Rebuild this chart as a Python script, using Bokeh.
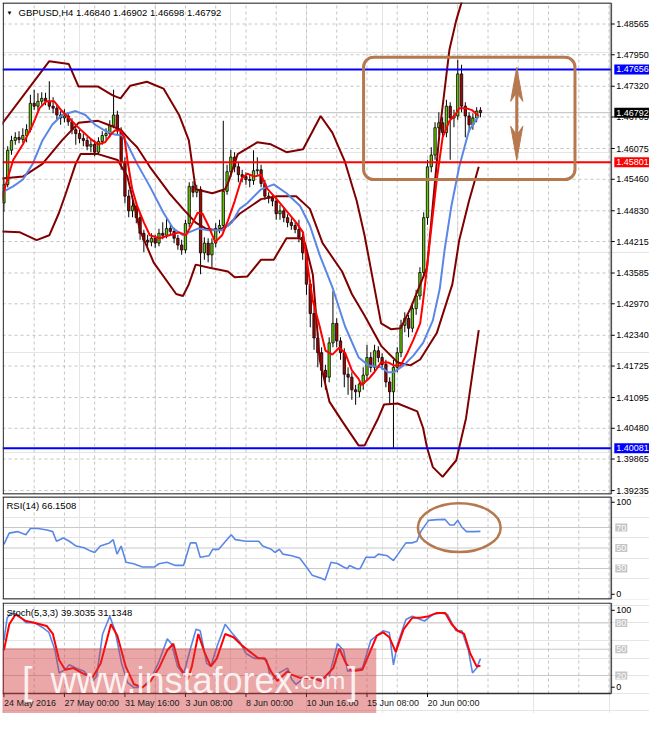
from bokeh.plotting import figure
from bokeh.layouts import column
from bokeh.models import Range1d, Label, BoxAnnotation, ColumnDataSource
from bokeh.core.properties import value
from bokeh.embed import file_html
from bokeh.resources import INLINE

# ---------------- data ----------------
opens = [1.44985, 1.45357, 1.46041, 1.46237, 1.46296, 1.46257, 1.46335, 1.46452, 1.46980, 1.46922,
         1.47019, 1.47078, 1.47019, 1.46922, 1.46882, 1.46746, 1.46687, 1.46726, 1.46609, 1.46452,
         1.46374, 1.46276, 1.46237, 1.46120, 1.46159, 1.46002, 1.46217, 1.46335, 1.46374, 1.46530,
         1.46746, 1.46433, 1.45807, 1.45122, 1.44829, 1.44926, 1.44692, 1.44379, 1.44242, 1.44203,
         1.44281, 1.44183, 1.44379, 1.44340, 1.44477, 1.44418, 1.44281, 1.44144, 1.44046, 1.44574,
         1.45318, 1.45200, 1.45259, 1.43988, 1.44183, 1.43948, 1.44183, 1.44477, 1.44535, 1.45220,
         1.45611, 1.45904, 1.45709, 1.45552, 1.45513, 1.45455, 1.45435, 1.45631, 1.45650, 1.45376,
         1.45122, 1.45083, 1.45024, 1.44770, 1.44829, 1.44692, 1.44594, 1.44535, 1.44457, 1.44301,
         1.43988, 1.43362, 1.42775, 1.42286, 1.41992, 1.41640, 1.41503, 1.42188, 1.42579, 1.42227,
         1.41992, 1.41562, 1.41503, 1.41249, 1.41210, 1.41367, 1.41543, 1.41895, 1.41699, 1.42032,
         1.41895, 1.41758, 1.41406, 1.41210, 1.41699, 1.41992, 1.42540, 1.42677, 1.42481, 1.42873,
         1.43127, 1.43596, 1.44692, 1.45709, 1.45944, 1.46491, 1.46589, 1.46393, 1.46922, 1.46687,
         1.46726, 1.47567, 1.46922, 1.46726, 1.46550, 1.46687, 1.46840]
highs = [1.45450, 1.46120, 1.46330, 1.46400, 1.46420, 1.46480, 1.46560, 1.47150, 1.47250, 1.47180,
         1.47200, 1.47190, 1.47420, 1.47100, 1.46960, 1.46820, 1.46860, 1.46800, 1.46680, 1.46540,
         1.46450, 1.46380, 1.46310, 1.46260, 1.46240, 1.46300, 1.46420, 1.46480, 1.46640, 1.47250,
         1.46830, 1.46500, 1.45900, 1.45250, 1.45050, 1.45000, 1.44780, 1.44450, 1.44350, 1.44380,
         1.44350, 1.44470, 1.44600, 1.44700, 1.44560, 1.44490, 1.44350, 1.44250, 1.44650, 1.45400,
         1.45420, 1.45350, 1.45320, 1.44300, 1.44280, 1.44280, 1.44580, 1.44650, 1.46630, 1.45750,
         1.46050, 1.46000, 1.45800, 1.45650, 1.45600, 1.45560, 1.46040, 1.45900, 1.45750, 1.45450,
         1.45200, 1.45150, 1.45100, 1.44950, 1.44900, 1.44760, 1.44680, 1.44600, 1.44650, 1.44380,
         1.44050, 1.43450, 1.42900, 1.42400, 1.42100, 1.41750, 1.42300, 1.43220, 1.42680, 1.42300,
         1.42080, 1.41700, 1.41600, 1.41350, 1.41450, 1.41700, 1.42150, 1.42000, 1.42150, 1.42120,
         1.41980, 1.41850, 1.41500, 1.41850, 1.42100, 1.42650, 1.42800, 1.42750, 1.43000, 1.43250,
         1.43700, 1.44800, 1.45850, 1.46100, 1.46600, 1.46800, 1.46700, 1.47050, 1.47000, 1.46850,
         1.47850, 1.47750, 1.47000, 1.46800, 1.46780, 1.46900, 1.46902]
lows = [1.44810, 1.45300, 1.45950, 1.46150, 1.46180, 1.46190, 1.46200, 1.46400, 1.46850, 1.46830,
        1.46950, 1.46940, 1.46850, 1.46780, 1.46650, 1.46550, 1.46600, 1.46530, 1.46360, 1.46150,
        1.46180, 1.46120, 1.46040, 1.46000, 1.45920, 1.45950, 1.46150, 1.46250, 1.46300, 1.46480,
        1.46350, 1.45650, 1.44980, 1.44700, 1.44700, 1.44580, 1.44250, 1.44000, 1.44100, 1.44120,
        1.44090, 1.44120, 1.44260, 1.44280, 1.44330, 1.44180, 1.44050, 1.43950, 1.43980, 1.44500,
        1.45100, 1.45100, 1.43560, 1.43850, 1.43800, 1.43700, 1.44100, 1.44380, 1.44450, 1.45150,
        1.45500, 1.45600, 1.45400, 1.45400, 1.45350, 1.45300, 1.45350, 1.45550, 1.45300, 1.45050,
        1.44980, 1.44920, 1.44650, 1.44650, 1.44600, 1.44500, 1.44450, 1.44380, 1.44200, 1.43850,
        1.43150, 1.42500, 1.42050, 1.41700, 1.41300, 1.41250, 1.41400, 1.42100, 1.42100, 1.41850,
        1.41300, 1.41150, 1.41050, 1.40950, 1.41100, 1.41250, 1.41450, 1.41600, 1.41600, 1.41800,
        1.41650, 1.41300, 1.40980, 1.40081, 1.41600, 1.41900, 1.42400, 1.42300, 1.42400, 1.42750,
        1.43050, 1.43500, 1.44550, 1.45600, 1.45850, 1.46350, 1.46300, 1.46300, 1.45850, 1.46500,
        1.46650, 1.46800, 1.46300, 1.46400, 1.46450, 1.46600, 1.46698]
closes = [1.45357, 1.46041, 1.46237, 1.46296, 1.46257, 1.46335, 1.46452, 1.46980, 1.46922, 1.47019,
          1.47078, 1.47019, 1.46922, 1.46882, 1.46746, 1.46687, 1.46726, 1.46609, 1.46452, 1.46374,
          1.46276, 1.46237, 1.46120, 1.46159, 1.46002, 1.46217, 1.46335, 1.46374, 1.46530, 1.46746,
          1.46433, 1.45807, 1.45122, 1.44829, 1.44926, 1.44692, 1.44379, 1.44242, 1.44203, 1.44281,
          1.44183, 1.44379, 1.44340, 1.44477, 1.44418, 1.44281, 1.44144, 1.44046, 1.44574, 1.45318,
          1.45200, 1.45259, 1.43988, 1.44183, 1.43948, 1.44183, 1.44477, 1.44535, 1.45220, 1.45611,
          1.45904, 1.45709, 1.45552, 1.45513, 1.45455, 1.45435, 1.45631, 1.45650, 1.45376, 1.45122,
          1.45083, 1.45024, 1.44770, 1.44829, 1.44692, 1.44594, 1.44535, 1.44457, 1.44301, 1.43988,
          1.43362, 1.42775, 1.42286, 1.41992, 1.41640, 1.41503, 1.42188, 1.42579, 1.42227, 1.41992,
          1.41562, 1.41503, 1.41249, 1.41210, 1.41367, 1.41543, 1.41895, 1.41699, 1.42032, 1.41895,
          1.41758, 1.41406, 1.41210, 1.41699, 1.41992, 1.42540, 1.42677, 1.42481, 1.42873, 1.43127,
          1.43596, 1.44692, 1.45709, 1.45944, 1.46491, 1.46589, 1.46393, 1.46922, 1.46687, 1.46726,
          1.47567, 1.46922, 1.46726, 1.46550, 1.46687, 1.46824, 1.46792]

bb_up_bar = [-0.9, 12.0, 17.16, 19.74, 24.9, 28.77, 30.84, 33.42, 37.81, 42.19, 46.32, 48.9, 50.71,
             55.1, 58.45, 59.23, 61.81, 66.97, 70.58, 74.71, 79.1, 83.74, 86.84, 90.19, 93.29,
             95.35, 99.74, 102.32, 104.9, 107.48, 111.87, 115.23, 117.81, 119.61, 121.16, 122.45]
bb_up = [1.46530, 1.47821, 1.47763, 1.47313, 1.47313, 1.47137, 1.47078, 1.47332, 1.47411, 1.47274,
         1.46746, 1.46237, 1.45259, 1.45181, 1.45259, 1.45376, 1.45963, 1.46198, 1.46159, 1.46002,
         1.46061, 1.46726, 1.46393, 1.45807, 1.45024, 1.44340, 1.42579, 1.42462, 1.42481, 1.42873,
         1.43694, 1.46433, 1.48056, 1.48643, 1.49034, 1.49523]
bb_mid_bar = [-0.9, 5.03, 10.19, 15.35, 19.74, 24.9, 28.26, 30.84, 33.42, 35.23, 38.58, 43.74, 47.35,
              50.71, 53.29, 56.65, 59.23, 62.32, 68.0, 72.13, 77.29, 80.9, 84.26, 89.42, 92.0,
              95.35, 99.74, 104.13, 107.48, 110.06, 114.45, 118.58, 120.39, 122.97, 125.55]
bb_mid = [1.45474, 1.45513, 1.45768, 1.46237, 1.46589, 1.46628, 1.46530, 1.46452, 1.46237, 1.46100,
          1.45709, 1.45181, 1.44868, 1.44594, 1.44477, 1.44438, 1.44535, 1.44770, 1.45063, 1.45122,
          1.45122, 1.44868, 1.44183, 1.43616, 1.43166, 1.42736, 1.42129, 1.41797, 1.41738, 1.41856,
          1.42384, 1.43362, 1.44242, 1.45024, 1.45709]
bb_low_bar = [-0.9, 4.26, 8.65, 12.0, 14.58, 16.39, 18.97, 20.26, 24.9, 30.06, 32.65, 36.0, 39.61,
              45.55, 47.35, 48.9, 50.71, 54.06, 59.23, 61.03, 64.39, 68.0, 71.35, 74.71, 78.32,
              79.61, 81.68, 83.48, 86.06, 89.42, 93.81, 95.35, 98.97, 100.52, 104.13, 109.29,
              110.84, 111.87, 113.42, 116.0, 119.61, 122.19, 125.55]
bb_low = [1.44418, 1.44398, 1.44242, 1.44340, 1.44790, 1.45181, 1.45768, 1.45963, 1.45963, 1.45846,
          1.45513, 1.44438, 1.43792, 1.43166, 1.43127, 1.43362, 1.43753, 1.43694, 1.43616, 1.43499,
          1.43518, 1.43851, 1.43851, 1.44281, 1.44281, 1.44183, 1.43557, 1.41856, 1.41014, 1.40623,
          1.40134, 1.40134, 1.40682, 1.40956, 1.40975, 1.40819, 1.40486, 1.40095, 1.39704, 1.39508,
          1.39841, 1.40682, 1.42442]
ma_blue_bar = [-0.9, 2.45, 5.03, 7.61, 10.19, 12.77, 15.35, 18.97, 21.55, 24.13, 26.71, 29.29, 31.35,
               32.65, 35.23, 38.58, 42.19, 44.77, 47.35, 48.9, 51.48, 54.06, 57.68, 60.26, 62.32,
               64.39, 68.0, 71.35, 74.71, 78.32, 80.9, 83.48, 86.84, 90.19, 93.81, 96.39, 99.74,
               101.55, 103.1, 105.68, 108.26, 110.84, 113.42, 115.23, 116.52, 118.32, 120.39,
               122.97, 125.55]
ma_blue = [1.45181, 1.45318, 1.45455, 1.45768, 1.46237, 1.46550, 1.46746, 1.46824, 1.46746, 1.46550,
           1.46433, 1.46354, 1.46335, 1.46159, 1.45768, 1.45318, 1.44790, 1.44477, 1.44340, 1.44398,
           1.44477, 1.44438, 1.44438, 1.44594, 1.44868, 1.44985, 1.45259, 1.45357, 1.45181, 1.44926,
           1.44535, 1.43948, 1.43303, 1.42521, 1.41895, 1.41738, 1.41699, 1.41601, 1.41601, 1.41738,
           1.41934, 1.42188, 1.42638, 1.43264, 1.44046, 1.44926, 1.45709, 1.46433, 1.46726]
ma_red_bar = [-0.9, 0.9, 2.45, 5.03, 7.61, 9.42, 11.23, 13.29, 15.35, 17.94, 20.52, 23.1, 24.9, 26.71,
              28.26, 29.29, 30.84, 31.87, 32.65, 33.94, 35.23, 37.03, 38.58, 41.16, 43.74, 46.32,
              48.13, 49.94, 51.23, 52.52, 54.06, 55.87, 57.68, 59.23, 61.03, 62.84, 64.39, 66.19,
              68.0, 69.55, 72.13, 74.71, 77.29, 79.1, 79.87, 80.9, 81.68, 83.48, 85.03, 86.84,
              88.65, 90.19, 92.0, 93.81, 94.58, 96.39, 97.94, 99.74, 101.55, 103.1, 104.9, 106.71,
              108.26, 110.06, 110.84, 111.87, 112.65, 114.45, 116.0, 117.81, 119.1, 120.39,
              122.19, 123.74, 125.55]
ma_red = [1.44985, 1.45455, 1.45846, 1.46159, 1.46550, 1.46882, 1.47019, 1.47019, 1.46824, 1.46628,
          1.46433, 1.46257, 1.46159, 1.46198, 1.46354, 1.46433, 1.46433, 1.46296, 1.45846, 1.45259,
          1.44926, 1.44594, 1.44340, 1.44281, 1.44340, 1.44398, 1.44340, 1.44594, 1.44790, 1.44770,
          1.44535, 1.44203, 1.44340, 1.44633, 1.45024, 1.45474, 1.45572, 1.45513, 1.45552, 1.45279,
          1.45063, 1.44829, 1.44594, 1.44398, 1.43948, 1.43420, 1.43029, 1.42521, 1.42032, 1.41953,
          1.42090, 1.41992, 1.41640, 1.41464, 1.41347, 1.41464, 1.41601, 1.41797, 1.41797, 1.41738,
          1.41738, 1.41992, 1.42247, 1.42579, 1.43029, 1.43694, 1.44242, 1.45455, 1.46296, 1.46628,
          1.46726, 1.46882, 1.46882, 1.46843, 1.46726]

rsi_bar = [0, 1.4, 3.6, 5.8, 7, 9, 11.4, 12.9, 13.9, 15.7, 17.3, 19.1, 21.2, 22.8, 24, 25.5, 27.9,
           28.9, 29.9, 31, 32.3, 34.3, 36.6, 39.7, 41, 43.1, 45.4, 47.5, 49.3, 50.8, 51.9, 54.2,
           55.2, 56.8, 58.6, 60.1, 61.2, 64, 66.3, 67.4, 68.4, 70.7, 71.7, 72.8, 73.8, 76.1, 78.2,
           80, 81.5, 83.9, 84.9, 86.5, 88.3, 89.8, 90.8, 91.4, 93.2, 94.2, 95.7, 98, 99, 101.4,
           103, 104.8, 106.3, 107.9, 109.2, 110.2, 112.3, 114.6, 116.6, 117.9, 119, 120, 121,
           122.3, 124.4, 126]
rsi_val = [53.5, 64.5, 66, 63, 69, 69, 67.6, 66, 56.6, 59.8, 56.6, 51.9, 50.3, 47.2, 45.6, 51.9, 55,
           58.2, 44, 51.9, 36, 34.6, 31.4, 31.4, 34.6, 36, 33, 33, 55, 55, 40.9, 42.4, 48.7, 48.7,
           56.6, 62.9, 58.2, 56.6, 56.6, 56.6, 51.9, 48.7, 45.6, 48.7, 44, 42.4, 40.2, 31.4, 23.5,
           20.4, 18.8, 36, 34.6, 31.4, 29.8, 33, 29.8, 29.8, 40.9, 40.9, 44, 42.4, 37.7, 47.2, 55,
           55, 56.6, 66, 77, 77.7, 78, 72.4, 72.4, 77, 70.8, 66, 66, 66.2]

stoch_k_bar = [0, 0.87, 1.97, 3.62, 5.82, 8.01, 10.2, 11.9, 13.5, 14.6, 16.2, 17.3, 19.0, 21.2, 23.4,
               24.5, 26.1, 28.0, 29.4, 31.1, 32.7, 34.4, 36.6, 38.8, 41.0, 43.2, 44.3, 45.9, 47.5,
               49.2, 50.8, 51.9, 53.6, 54.7, 56.3, 58.5, 60.2, 62.4, 64.0, 66.2, 67.9, 69.5, 70.6,
               72.8, 75.0, 76.1, 77.2, 79.4, 81.6, 83.8, 86.0, 88.2, 89.8, 90.9, 92.6, 94.8, 97.0,
               98.6, 100.3, 101.9, 103.0, 104.1, 106.3, 108.0, 110.1, 111.2, 113.4, 115.6, 117.3,
               119.5, 121.1, 122.8, 123.9, 125.0, 126.0]
stoch_k = [60.0, 85.9, 91.4, 89.6, 80.3, 80.3, 74.8, 69.2, 48.9, 23.0, 26.7, 32.2, 28.5, 24.8, 13.7,
           19.3, 67.4, 87.7, 71.1, 34.1, 11.9, 6.3, 6.3, 15.6, 35.9, 61.8, 56.3, 30.4, 21.1, 48.9,
           72.9, 71.1, 34.1, 30.4, 52.6, 78.5, 69.2, 58.1, 45.2, 39.6, 39.6, 37.8, 13.7, 23.0, 28.5,
           15.6, 10.0, 17.4, 17.4, 15.6, 19.3, 56.3, 48.9, 24.8, 26.7, 28.5, 60.0, 65.5, 71.1, 69.2,
           32.2, 56.3, 84.0, 87.7, 84.0, 82.2, 89.6, 91.4, 89.6, 71.1, 71.1, 48.9, 23.0, 28.5, 39.3]
stoch_d_bar = [0, 1.42, 3.07, 5.82, 8.01, 11.3, 12.95, 14.6, 16.2, 18.4, 20.6, 23.4, 25.6, 28.3, 30.0,
               32.2, 34.4, 36.6, 38.8, 41.0, 43.2, 44.8, 46.4, 48.6, 49.7, 51.4, 53.0, 54.7, 56.3,
               58.5, 60.7, 62.9, 65.1, 67.3, 69.0, 70.6, 72.3, 75.0, 76.1, 78.3, 81.6, 83.8, 87.1,
               88.7, 90.4, 92.0, 94.8, 97.0, 98.6, 100.3, 101.9, 103.6, 105.7, 108.0, 110.1, 112.3,
               114.5, 116.7, 118.4, 120.0, 121.7, 123.3, 125.0, 126.0]
stoch_d = [48.9, 78.5, 89.6, 82.2, 80.3, 76.6, 67.4, 37.8, 26.7, 28.5, 23.0, 17.4, 34.1, 78.5, 65.5,
           30.4, 10.0, 6.3, 13.7, 28.5, 48.9, 56.3, 30.4, 15.6, 30.4, 67.4, 47.0, 30.4, 39.6, 67.4,
           63.7, 54.4, 47.0, 39.6, 39.6, 24.8, 13.7, 24.8, 21.1, 17.4, 17.4, 13.7, 28.5, 50.7, 34.1,
           24.8, 26.7, 48.9, 65.5, 69.2, 63.7, 47.0, 72.9, 85.9, 85.9, 87.7, 91.4, 91.4, 78.5, 71.1,
           67.4, 45.2, 30.4, 31.1]

price_ticks = [1.48565, 1.47950, 1.47320, 1.46705, 1.46075, 1.45460, 1.44830, 1.44215, 1.43585,
               1.42970, 1.42340, 1.41725, 1.41095, 1.40480, 1.39865, 1.39235]
level_upper = 1.47656
level_mid = 1.45801
level_low = 1.40081
last_price = 1.46792
x_tick_bars = [0, 16, 32, 48, 64, 80, 96, 112]
x_tick_labels = ["24 May 2016", "27 May 00:00", "31 May 16:00", "3 Jun 08:00", "8 Jun 00:00",
                 "10 Jun 16:00", "15 Jun 08:00", "20 Jun 00:00"]
rsi_levels = [30, 50, 70]
rsi_edge_ticks = [4.8, 94.7]
rsi_edge_labels = ["0", "100"]
stoch_levels = [20, 50, 80]
stoch_edge_ticks = [6.7, 94.4]
stoch_edge_labels = ["0", "100"]
title_text = "GBPUSD,H4  1.46840 1.46902 1.46698 1.46792"
rsi_title = "RSI(14) 66.1508"
stoch_title = "Stoch(5,3,3) 39.3035 31.1348"

# annotation geometry (bar index / price / indicator units)
box_left, box_right, box_top, box_bottom = 95.1, 151.0, 1.47900, 1.45455
arrow_x, arrow_top, arrow_bottom = 135.6, 1.47698, 1.45840
arrow_head_len, arrow_head_half, arrow_notch = 0.0068, 1.6, 0.0050
ell_x, ell_y, ell_w, ell_h = 120.4, 69.9, 21.9, 47.8
wm_right, wm_top = 98.45, 51.1

# ---------------- style / layout ----------------
FONT = "Liberation Sans"
BROWN = "#b5784f"
BBC = "#800000"
RED = "#ff0000"
BLUE_MA = "#5a87e6"
GRID = "#c4c4c4"
X0, X1 = -0.374, 170.7      # full canvas width in bar units
AX = 160.6                  # price-axis line position
FW = 647
xr = Range1d(X0, X1)
vgrid = list(range(8, 161, 8))


def panel(fh, top, bottom, lo, hi):
    p = figure(frame_width=FW, frame_height=fh, x_range=xr, y_range=Range1d(lo, hi),
               toolbar_location=None, output_backend="svg",
               x_axis_location=None, y_axis_location=None,
               min_border_left=2, min_border_right=0,
               min_border_top=top, min_border_bottom=bottom)
    p.outline_line_color = None
    p.background_fill_color = "white"
    p.border_fill_color = "white"
    return p


def vgrid_lines(p, lo, hi):
    k = len(vgrid)
    p.segment(x0=vgrid, y0=[lo] * k, x1=vgrid, y1=[hi] * k,
              line_color=GRID, line_dash="3 3", line_width=1)


def borders(p, lo, hi, with_bottom=True):
    ys = [hi, lo] if with_bottom else [hi]
    p.segment(x0=[X0] * len(ys), y0=ys, x1=[AX] * len(ys), y1=ys, line_color="#303030", line_width=1.3)
    p.segment(x0=[X0 + 0.2], y0=[lo], x1=[X0 + 0.2], y1=[hi], line_color="#303030", line_width=1.2)
    p.segment(x0=[AX], y0=[lo], x1=[AX], y1=[hi], line_color="#505050", line_width=1.6)


def yticks(p, vals, labels):
    k = len(vals)
    p.segment(x0=[AX] * k, y0=vals, x1=[AX + 0.9] * k, y1=vals, line_color="black", line_width=1)
    p.text(x=[AX] * k, y=vals, text=labels, x_offset=5, text_align="left",
           text_baseline="middle", text_font=value(FONT), text_font_size=value("9px"),
           text_color="black")


def level_label(p, y, text, bg, fg, pad, xoff):
    p.add_layout(Label(x=AX, y=y, x_offset=xoff, text=text, text_align="left",
                       text_baseline="middle", text_color=fg, text_font=FONT,
                       text_font_size="9px", background_fill_color=bg, padding=pad))


# ---------------- main price panel ----------------
M_LO, M_HI = 1.39156, 1.48995
pm = panel(492, 2, 1, M_LO, M_HI)
m_eps = 0.0001
vgrid_lines(pm, M_LO, M_HI)
kt = len(price_ticks)
pm.segment(x0=[X0] * kt, y0=price_ticks, x1=[AX] * kt, y1=price_ticks,
           line_color=GRID, line_dash="3 3", line_width=1)
pm.segment(x0=[X0], y0=[last_price], x1=[AX], y1=[last_price], line_color="#c0c0c0", line_width=1)

n = len(closes)
src = ColumnDataSource(dict(
    x=list(range(n)),
    top=[max(o, c) for o, c in zip(opens, closes)],
    bottom=[min(o, c) for o, c in zip(opens, closes)],
    high=highs, low=lows,
    color=["#66cc00" if c >= o else "#b00000" for o, c in zip(opens, closes)],
))
pm.segment(x0="x", y0="low", x1="x", y1="high", line_color="black", line_width=1, source=src)
pm.vbar(x="x", width=0.62, top="top", bottom="bottom", fill_color="color",
        line_color="black", line_width=0.8, source=src)

for bx, by in [(bb_up_bar, bb_up), (bb_mid_bar, bb_mid), (bb_low_bar, bb_low)]:
    pm.line(bx, by, line_color=BBC, line_width=2)
pm.line(ma_blue_bar, ma_blue, line_color=BLUE_MA, line_width=2)
pm.line(ma_red_bar, ma_red, line_color=RED, line_width=2)

pm.segment(x0=[X0, X0, X0], y0=[level_upper, level_low, level_mid], x1=[AX, AX, AX],
           y1=[level_upper, level_low, level_mid], line_color=["#0000ff", "#0000ff", RED],
           line_width=2)

pm.add_layout(BoxAnnotation(left=box_left, right=box_right, top=box_top, bottom=box_bottom,
                            fill_alpha=0, line_color=BROWN, line_alpha=1, line_width=3,
                            border_radius=10))
pm.line([arrow_x, arrow_x], [arrow_top - arrow_notch, arrow_bottom + arrow_notch],
        line_color=BROWN, line_width=3)
pm.patch([arrow_x, arrow_x - arrow_head_half, arrow_x, arrow_x + arrow_head_half],
         [arrow_top, arrow_top - arrow_head_len, arrow_top - arrow_notch, arrow_top - arrow_head_len],
         fill_color=BROWN, line_color=BROWN, line_width=1)
pm.patch([arrow_x, arrow_x - arrow_head_half, arrow_x, arrow_x + arrow_head_half],
         [arrow_bottom, arrow_bottom + arrow_head_len, arrow_bottom + arrow_notch,
          arrow_bottom + arrow_head_len],
         fill_color=BROWN, line_color=BROWN, line_width=1)

borders(pm, M_LO + m_eps, M_HI - m_eps)
yticks(pm, price_ticks, ["%.5f" % t for t in price_ticks])
for lv, bg in [(level_upper, "#0000ff"), (level_mid, "#ff0000"), (last_price, "#000000"),
               (level_low, "#0000ff")]:
    level_label(pm, lv, "%.5f" % lv, bg, "white", 2, 3)

pm.add_layout(Label(x=X0, y=M_HI, x_offset=4, y_offset=-7, text="\u25BC",
                    text_baseline="top", text_font_size="6px", text_color="black"))
pm.add_layout(Label(x=X0, y=M_HI, x_offset=16, y_offset=-4, text=title_text,
                    text_baseline="top", text_font=FONT, text_font_size="9.5px",
                    text_color="black"))

# ---------------- RSI panel ----------------
R_LO, R_HI = -0.3, 100.3
pr = panel(103, 1, 1, R_LO, R_HI)
vgrid_lines(pr, R_LO, R_HI)
kl = len(rsi_levels)
pr.segment(x0=[X0] * kl, y0=rsi_levels, x1=[AX] * kl, y1=rsi_levels, line_color="#c8c8c8", line_width=1)
pr.line(rsi_bar, rsi_val, line_color=BLUE_MA, line_width=1.6)
pr.ellipse(x=[ell_x], y=[ell_y], width=ell_w, height=ell_h, fill_color=None,
           line_color=BROWN, line_width=2.5)
borders(pr, R_LO + 0.5, R_HI - 0.5)
yticks(pr, rsi_edge_ticks, rsi_edge_labels)
for lv in rsi_levels:
    level_label(pr, lv, str(lv), "#c4c4c4", "white", 1, 4)
pr.add_layout(Label(x=X0, y=R_HI, x_offset=4, y_offset=-3, text=rsi_title, text_baseline="top",
                    text_font=FONT, text_font_size="9.5px", text_color="black"))

# ---------------- Stochastic panel (with time axis below) ----------------
S_LO, S_HI = -23.3, 103.3
S_AXIS = -0.5
ps = panel(111, 2, 0, S_LO, S_HI)
vgrid_lines(ps, S_AXIS, S_HI)
ks = len(stoch_levels)
ps.segment(x0=[X0] * ks, y0=stoch_levels, x1=[AX] * ks, y1=stoch_levels, line_color="#c8c8c8", line_width=1)
ps.line(stoch_k_bar, stoch_k, line_color=BLUE_MA, line_width=1.6)
ps.line(stoch_d_bar, stoch_d, line_color=RED, line_width=2)
borders(ps, S_AXIS, S_HI - 0.6)
kx = len(x_tick_bars)
ps.segment(x0=x_tick_bars, y0=[S_AXIS] * kx, x1=x_tick_bars, y1=[S_AXIS - 4.0] * kx,
           line_color="black", line_width=1)
yticks(ps, stoch_edge_ticks, stoch_edge_labels)
for lv in stoch_levels:
    level_label(ps, lv, str(lv), "#c4c4c4", "white", 1, 4)
ps.add_layout(Label(x=X0, y=S_HI, x_offset=4, y_offset=-4, text=stoch_title, text_baseline="top",
                    text_font=FONT, text_font_size="9.5px", text_color="black"))

# watermark band
ps.add_layout(BoxAnnotation(left=X0 - 2, right=wm_right, top=wm_top, bottom=S_LO - 5,
                            fill_color="#d23c3c", fill_alpha=0.45, line_alpha=0))

for b, t in zip(x_tick_bars, x_tick_labels):
    ps.add_layout(Label(x=b, y=S_AXIS, x_offset=0, y_offset=-4, text=t, text_align="left",
                        text_baseline="top", text_font=FONT, text_font_size="9px",
                        text_color="#202020"))

for bx, t, fs in [(4.8, "[", "38px"), (12.3, "www.instaforex", "36px"), (76.5, ".com", "24px"),
                  (90.7, "]", "38px")]:
    ps.add_layout(Label(x=bx, y=S_AXIS, y_offset=13, text=t, text_align="left",
                        text_baseline="alphabetic", text_font=FONT, text_font_size=fs,
                        text_color="white", text_alpha=0.85))

layout = column(pm, pr, ps)
open("out.html", "w").write(file_html(layout, INLINE, title="GBPUSD H4"))
